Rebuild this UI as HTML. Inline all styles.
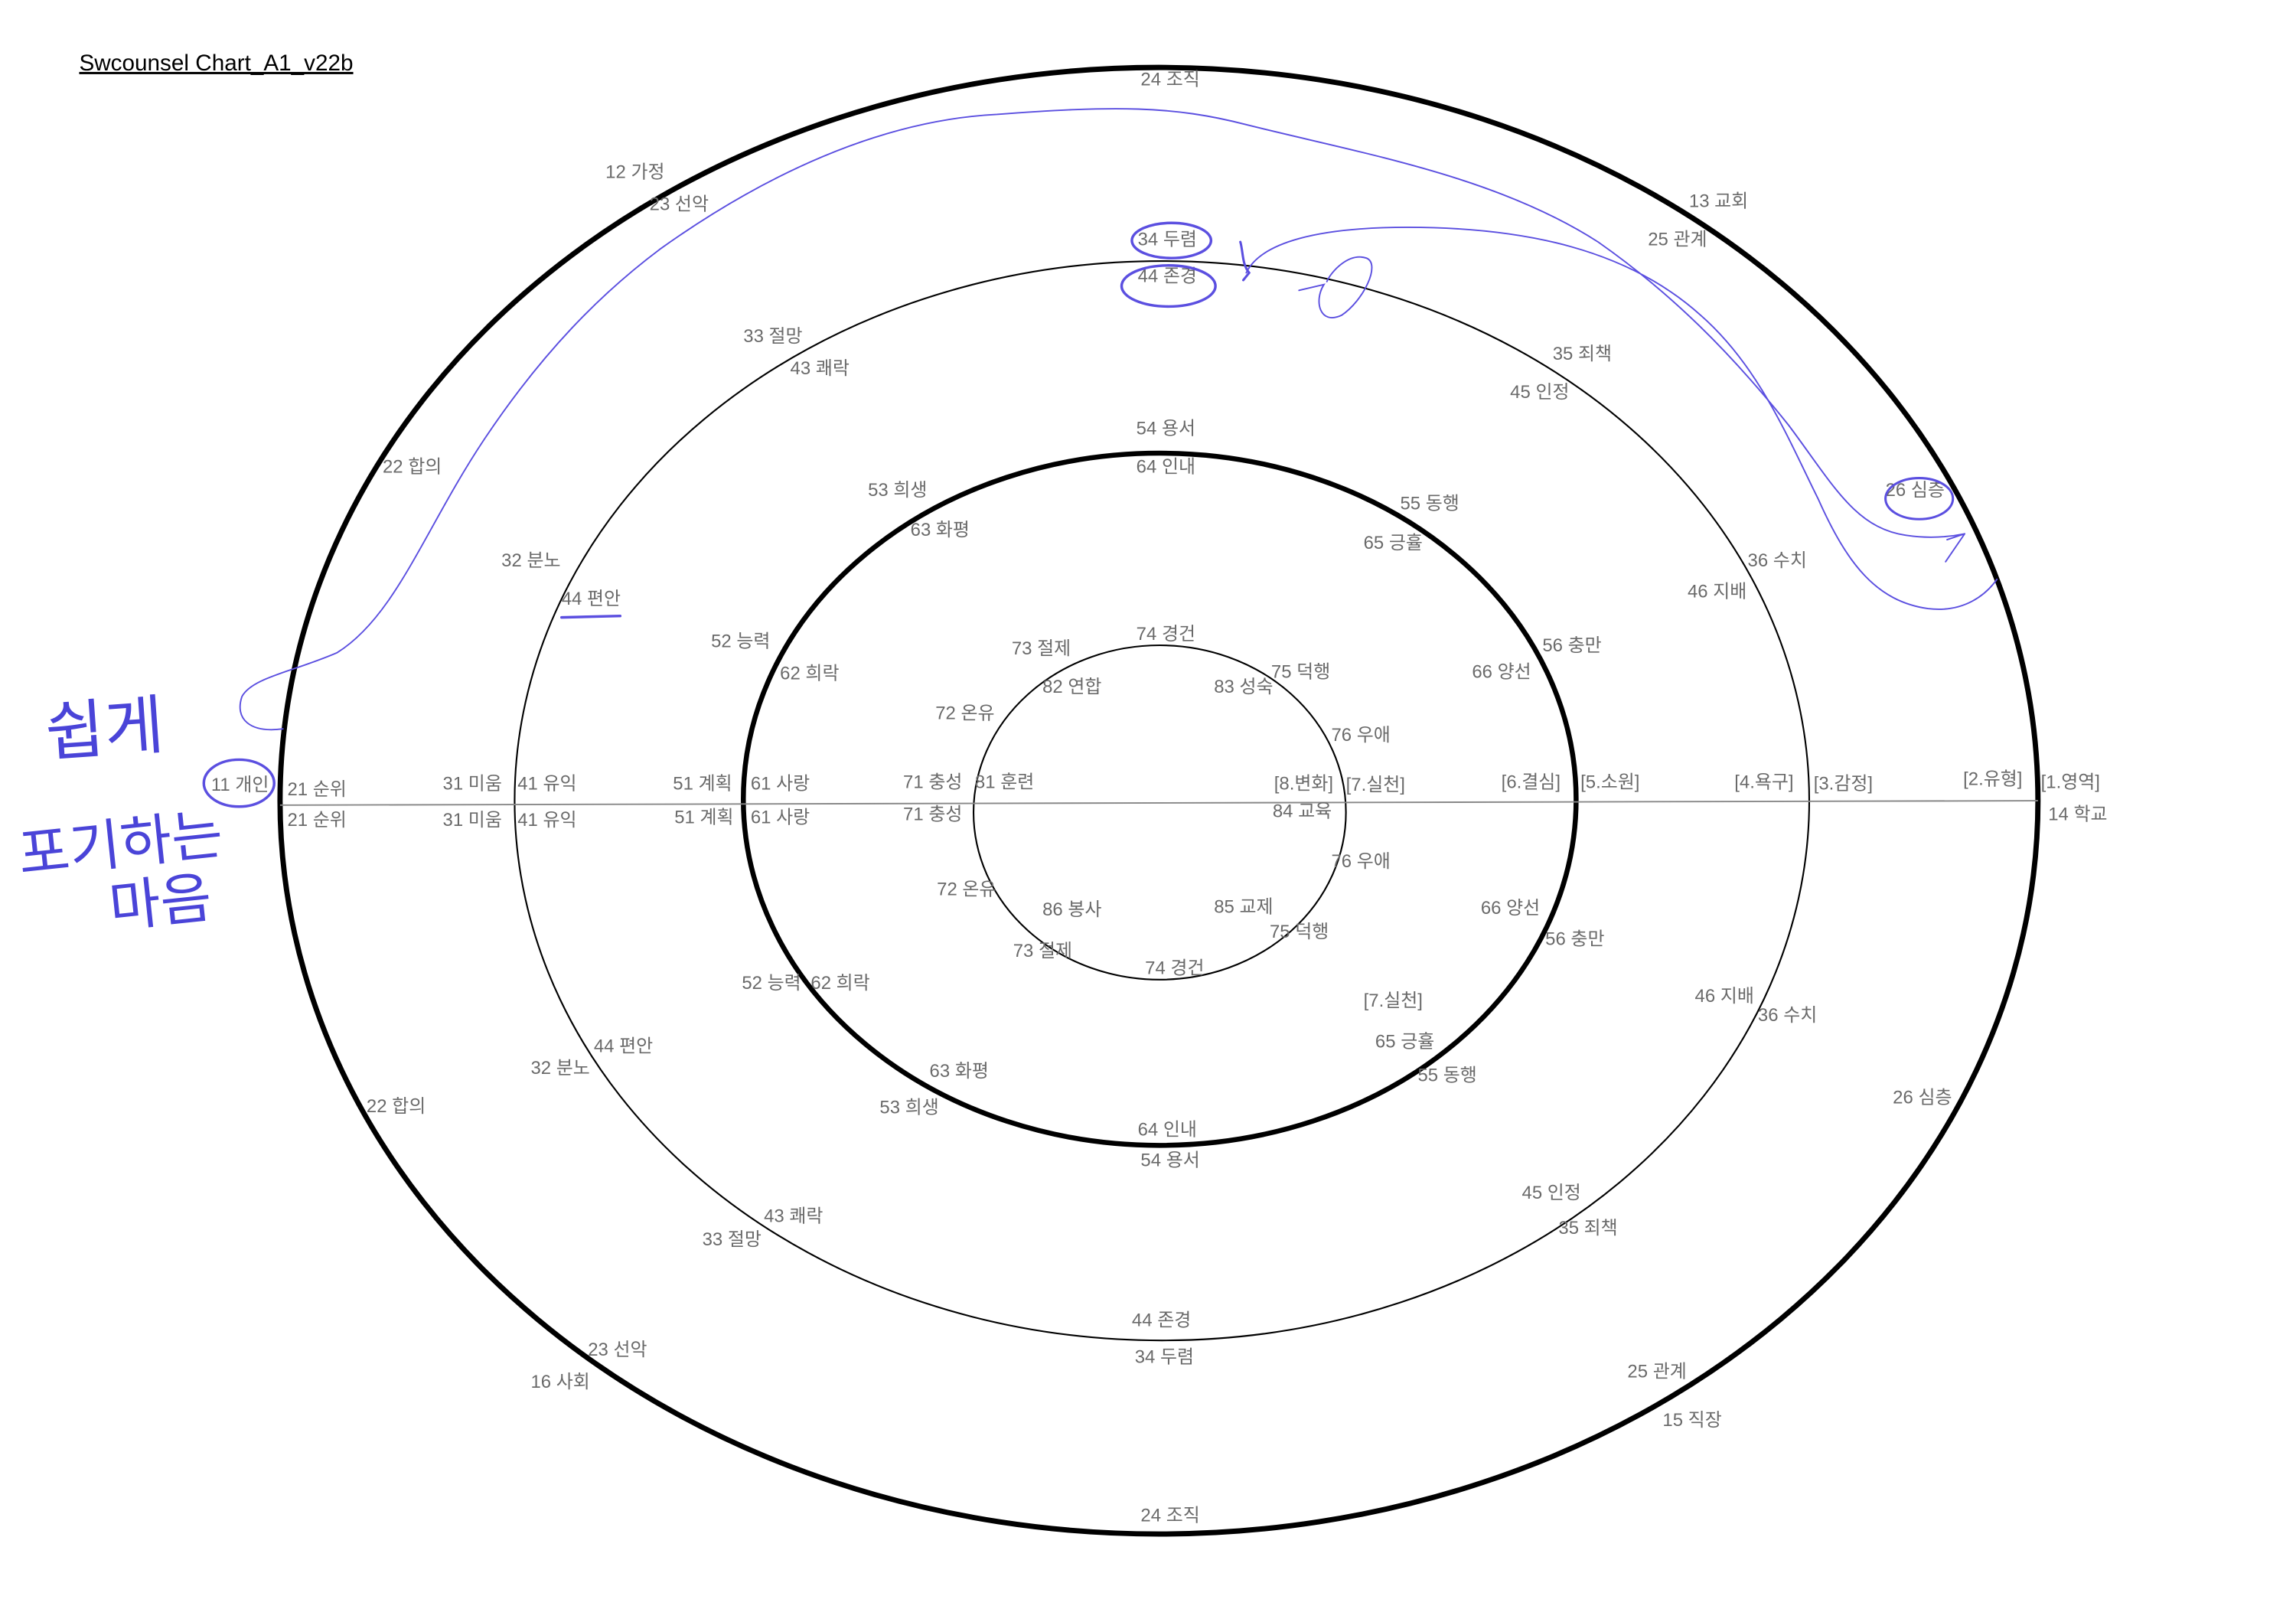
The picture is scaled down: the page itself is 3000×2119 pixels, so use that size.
<!DOCTYPE html>
<html><head><meta charset="utf-8"><style>
html,body{margin:0;padding:0;background:#fff;}
svg{display:block;}
text{font-family:"Liberation Sans","Noto Sans CJK KR",sans-serif;}
.l{font-size:12.5px;fill:#6a6a6a;dominant-baseline:middle;}
</style></head><body>
<svg width="3000" height="2119" viewBox="0 0 1566 1106" preserveAspectRatio="none" xmlns="http://www.w3.org/2000/svg">
<rect width="1566" height="1106" fill="#fff"/>
<text x="54" y="48" font-size="15.5" fill="#000" text-decoration="underline">Swcounsel Chart_A1_v22b</text>
<ellipse cx="790.5" cy="546" rx="599.5" ry="500" fill="none" stroke="#000" stroke-width="3.6"/>
<ellipse cx="792.5" cy="546" rx="441.5" ry="368" fill="none" stroke="#000" stroke-width="1.1"/>
<ellipse cx="791" cy="545" rx="284" ry="236" fill="none" stroke="#000" stroke-width="3.4"/>
<ellipse cx="791" cy="554" rx="127" ry="114" fill="none" stroke="#000" stroke-width="1.1"/>
<line x1="191" y1="549" x2="1390" y2="546" stroke="#888" stroke-width="1"/>
<g class="l">
<text class="l" x="778" y="55">24 조직</text>
<text class="l" x="413" y="118">12 가정</text>
<text class="l" x="443" y="140">23 선악</text>
<text class="l" x="1152" y="138">13 교회</text>
<text class="l" x="1124" y="164">25 관계</text>
<text class="l" x="776" y="164">34 두렴</text>
<text class="l" x="776" y="189">44 존경</text>
<text class="l" x="507" y="230">33 절망</text>
<text class="l" x="539" y="252">43 쾌락</text>
<text class="l" x="1059" y="242">35 죄책</text>
<text class="l" x="1030" y="268">45 인정</text>
<text class="l" x="261" y="319">22 합의</text>
<text class="l" x="775" y="293">54 용서</text>
<text class="l" x="775" y="319">64 인내</text>
<text class="l" x="592" y="335">53 희생</text>
<text class="l" x="621" y="362">63 화평</text>
<text class="l" x="955" y="344">55 동행</text>
<text class="l" x="930" y="371">65 긍휼</text>
<text class="l" x="1286" y="335">26 심층</text>
<text class="l" x="342" y="383">32 분노</text>
<text class="l" x="383" y="409">44 편안</text>
<text class="l" x="1192" y="383">36 수치</text>
<text class="l" x="1151" y="404">46 지배</text>
<text class="l" x="485" y="438">52 능력</text>
<text class="l" x="532" y="460">62 희락</text>
<text class="l" x="690" y="443">73 절제</text>
<text class="l" x="775" y="433">74 경건</text>
<text class="l" x="867" y="459">75 덕행</text>
<text class="l" x="711" y="469">82 연합</text>
<text class="l" x="828" y="469">83 성숙</text>
<text class="l" x="1052" y="441">56 충만</text>
<text class="l" x="1004" y="459">66 양선</text>
<text class="l" x="638" y="487">72 온유</text>
<text class="l" x="908" y="502">76 우애</text>
<text class="l" x="144" y="536">11 개인</text>
<text class="l" x="196" y="539">21 순위</text>
<text class="l" x="302" y="535">31 미움</text>
<text class="l" x="353" y="535">41 유익</text>
<text class="l" x="459" y="535">51 계획</text>
<text class="l" x="512" y="535">61 사랑</text>
<text class="l" x="616" y="534">71 충성</text>
<text class="l" x="665" y="534">81 훈련</text>
<text class="l" x="869" y="535">[8.변화]</text>
<text class="l" x="918" y="536">[7.실천]</text>
<text class="l" x="1024" y="534">[6.결심]</text>
<text class="l" x="1078" y="534">[5.소원]</text>
<text class="l" x="1183" y="534">[4.욕구]</text>
<text class="l" x="1237" y="535">[3.감정]</text>
<text class="l" x="1339" y="532">[2.유형]</text>
<text class="l" x="1392" y="534">[1.영역]</text>
<text class="l" x="196" y="560">21 순위</text>
<text class="l" x="302" y="560">31 미움</text>
<text class="l" x="353" y="560">41 유익</text>
<text class="l" x="460" y="558">51 계획</text>
<text class="l" x="512" y="558">61 사랑</text>
<text class="l" x="616" y="556">71 충성</text>
<text class="l" x="868" y="554">84 교육</text>
<text class="l" x="1397" y="556">14 학교</text>
<text class="l" x="908" y="588">76 우애</text>
<text class="l" x="639" y="607">72 온유</text>
<text class="l" x="711" y="621">86 봉사</text>
<text class="l" x="828" y="619">85 교제</text>
<text class="l" x="866" y="636">75 덕행</text>
<text class="l" x="1010" y="620">66 양선</text>
<text class="l" x="1054" y="641">56 충만</text>
<text class="l" x="691" y="649">73 절제</text>
<text class="l" x="781" y="661">74 경건</text>
<text class="l" x="506" y="671">52 능력</text>
<text class="l" x="553" y="671">62 희락</text>
<text class="l" x="930" y="683">[7.실천]</text>
<text class="l" x="1156" y="680">46 지배</text>
<text class="l" x="1199" y="693">36 수치</text>
<text class="l" x="405" y="714">44 편안</text>
<text class="l" x="362" y="729">32 분노</text>
<text class="l" x="938" y="711">65 긍휼</text>
<text class="l" x="967" y="734">55 동행</text>
<text class="l" x="634" y="731">63 화평</text>
<text class="l" x="600" y="756">53 희생</text>
<text class="l" x="250" y="755">22 합의</text>
<text class="l" x="1291" y="749">26 심층</text>
<text class="l" x="776" y="771">64 인내</text>
<text class="l" x="778" y="792">54 용서</text>
<text class="l" x="1038" y="814">45 인정</text>
<text class="l" x="1063" y="838">35 죄책</text>
<text class="l" x="521" y="830">43 쾌락</text>
<text class="l" x="479" y="846">33 절망</text>
<text class="l" x="772" y="901">44 존경</text>
<text class="l" x="774" y="926">34 두렴</text>
<text class="l" x="401" y="921">23 선악</text>
<text class="l" x="362" y="943">16 사회</text>
<text class="l" x="1110" y="936">25 관계</text>
<text class="l" x="1134" y="969">15 직장</text>
<text class="l" x="778" y="1034">24 조직</text>
</g>
<g fill="none" stroke="#5b4fe0" stroke-linecap="round">
<ellipse cx="799" cy="164" rx="27" ry="12" stroke-width="1.8"/>
<ellipse cx="797" cy="195" rx="32" ry="14" stroke-width="1.8"/>
<ellipse cx="163" cy="534" rx="24" ry="16" stroke-width="1.8"/>
<ellipse cx="1309" cy="340" rx="23" ry="14" stroke-width="1.6"/>
<line x1="383" y1="421" x2="423" y2="420" stroke-width="1.8"/>
<path d="M193,497 C170,500 160,490 165,475 C172,462 200,458 230,445 C270,420 290,360 330,300 C370,240 410,200 450,170 C520,120 600,82 680,78 C760,72 800,72 850,85 C930,105 1020,120 1090,165 C1140,200 1180,240 1220,290 C1250,330 1265,360 1300,365 C1320,368 1335,365 1340,364" stroke-width="1"/>
<path d="M1340,364 L1327,383 M1340,364 L1328,368" stroke-width="1"/>
<path d="M850,186 C860,165 900,155 960,155 C1040,155 1110,170 1160,215 C1200,250 1220,300 1240,340 C1260,385 1280,410 1315,415 C1340,418 1355,405 1362,395" stroke-width="1"/>
<path d="M846,165 C848,172 847,180 852,186 L848,191" stroke-width="1.6"/>
<path d="M886,198 L903,194 C896,205 900,222 915,215 C930,205 942,180 932,176 C920,172 908,185 905,192" stroke-width="1"/>
</g>
<g fill="#4a44d8" font-family="'WenQuanYi Zen Hei','Noto Sans CJK KR',sans-serif">
<text x="32" y="515" font-size="44" transform="rotate(-4 32 515)">쉽게</text>
<text x="14" y="596" font-size="38" transform="rotate(-6 14 596)">포기하는</text>
<text x="76" y="632" font-size="38" transform="rotate(-6 76 632)">마음</text>
</g>
</svg>
</body></html>
